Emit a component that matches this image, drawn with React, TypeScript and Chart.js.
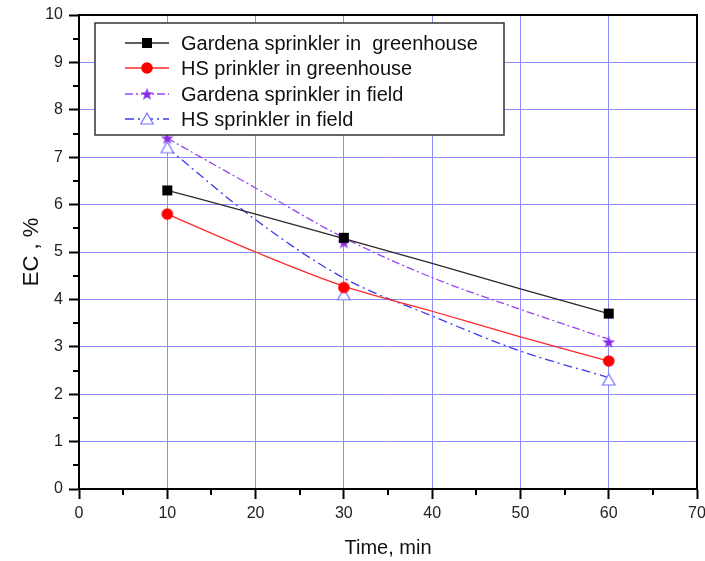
import React, { useEffect, useRef } from 'react';
import { Chart, registerables } from 'chart.js';

Chart.register(...registerables);

// ---- data ----
const timeMin = [10, 30, 60];
const gardenaGreenhouse = [6.3, 5.3, 3.7];
const hsGreenhouse = [5.8, 4.25, 2.7];
const gardenaField = [7.4, 5.2, 3.1];
const hsField = [7.2, 4.1, 2.3];

// fitted curves as drawn in the picture
const curveTime = [10, 20, 30, 40, 50, 60];
const gardenaGreenhouseCurve = [6.3, 5.8, 5.28, 4.76, 4.22, 3.7];
const hsGreenhouseCurve = [5.8, 5.0, 4.28, 3.75, 3.21, 2.7];
const gardenaFieldCurve = [7.4, 6.35, 5.3, 4.46, 3.79, 3.16];
const hsFieldCurve = [7.2, 5.68, 4.45, 3.65, 2.91, 2.35];

const seriesLabels = [
  'Gardena sprinkler in  greenhouse',
  'HS prinkler in greenhouse',
  'Gardena sprinkler in field',
  'HS sprinkler in field',
];

const xTitle = 'Time, min';
const yTitle = 'EC , %';

const FONT = 'Arial, "Liberation Sans", sans-serif';

type Kind = 'square' | 'circle' | 'star' | 'triangle';

function makeMarker(kind: Kind): HTMLCanvasElement {
  const c = document.createElement('canvas');
  c.width = 16;
  c.height = 16;
  const ctx = c.getContext('2d')!;
  const cx = 8, cy = 8;
  if (kind === 'square') {
    ctx.fillStyle = '#000';
    ctx.fillRect(cx - 5, cy - 5, 10, 10);
  } else if (kind === 'circle') {
    ctx.fillStyle = '#ff0000';
    ctx.beginPath();
    ctx.arc(cx, cy, 5.8, 0, Math.PI * 2);
    ctx.fill();
  } else if (kind === 'star') {
    ctx.fillStyle = '#8a2be2';
    ctx.strokeStyle = '#a070ff';
    ctx.lineWidth = 0.8;
    ctx.beginPath();
    for (let i = 0; i < 10; i++) {
      const r = i % 2 === 0 ? 6 : 2.6;
      const a = -Math.PI / 2 + (i * Math.PI) / 5;
      const px = cx + r * Math.cos(a);
      const py = cy + 0.5 + r * Math.sin(a);
      if (i === 0) ctx.moveTo(px, py);
      else ctx.lineTo(px, py);
    }
    ctx.closePath();
    ctx.fill();
    ctx.stroke();
  } else {
    ctx.fillStyle = '#ffffff';
    ctx.strokeStyle = '#7474ff';
    ctx.lineWidth = 1.2;
    ctx.beginPath();
    ctx.moveTo(cx, cy - 6);
    ctx.lineTo(cx + 6.2, cy + 5);
    ctx.lineTo(cx - 6.2, cy + 5);
    ctx.closePath();
    ctx.fill();
    ctx.stroke();
  }
  return c;
}

export default function App() {
  const ref = useRef<HTMLCanvasElement | null>(null);

  useEffect(() => {
    const canvas = ref.current;
    if (!canvas) return;

    const markers = {
      square: makeMarker('square'),
      circle: makeMarker('circle'),
      star: makeMarker('star'),
      triangle: makeMarker('triangle'),
    };

    const series = [
      { label: seriesLabels[0], pts: gardenaGreenhouse, curve: gardenaGreenhouseCurve, line: '#2a2a2a', dash: [] as number[], marker: markers.square },
      { label: seriesLabels[1], pts: hsGreenhouse, curve: hsGreenhouseCurve, line: '#ff2a2a', dash: [] as number[], marker: markers.circle },
      { label: seriesLabels[2], pts: gardenaField, curve: gardenaFieldCurve, line: '#9a44f2', dash: [8, 3, 2, 3], marker: markers.star },
      { label: seriesLabels[3], pts: hsField, curve: hsFieldCurve, line: '#3b3bea', dash: [9, 4, 2, 4], marker: markers.triangle },
    ];

    const datasets: any[] = [];
    series.forEach((s) => {
      datasets.push({
        label: s.label + ' curve',
        data: curveTime.map((t, i) => ({ x: t, y: s.curve[i] })),
        borderColor: s.line,
        borderWidth: 1.3,
        borderDash: s.dash,
        pointRadius: 0,
        fill: false,
        cubicInterpolationMode: 'monotone',
        order: 2,
      });
    });
    series.forEach((s) => {
      datasets.push({
        label: s.label,
        data: timeMin.map((t, i) => ({ x: t, y: s.pts[i] })),
        showLine: false,
        pointStyle: s.marker,
        pointRadius: 6,
        order: 1,
      });
    });

    const framePlugin = {
      id: 'frameAndLegend',
      afterDraw(chart: any) {
        const { ctx, chartArea } = chart;
        const { left, right, top, bottom } = chartArea;
        ctx.save();
        // minor ticks
        ctx.strokeStyle = '#000';
        ctx.lineWidth = 2;
        const ys = chart.scales.y;
        const xs = chart.scales.x;
        for (let v = 0.5; v < 10; v += 1) {
          const py = Math.round(ys.getPixelForValue(v));
          ctx.beginPath();
          ctx.moveTo(left - 6, py);
          ctx.lineTo(left, py);
          ctx.stroke();
        }
        for (let v = 5; v < 70; v += 10) {
          const px = Math.round(xs.getPixelForValue(v));
          ctx.beginPath();
          ctx.moveTo(px, bottom);
          ctx.lineTo(px, bottom + 6);
          ctx.stroke();
        }
        // top and right frame
        ctx.beginPath();
        ctx.moveTo(left - 1, top);
        ctx.lineTo(right, top);
        ctx.lineTo(right, bottom + 1);
        ctx.stroke();

        // legend
        const bx = 95, by = 23, bw = 409, bh = 112;
        ctx.fillStyle = '#ffffff';
        ctx.fillRect(bx, by, bw, bh);
        ctx.strokeStyle = '#333';
        ctx.lineWidth = 1.5;
        ctx.strokeRect(bx, by, bw, bh);
        const rows = [43, 68, 94, 119];
        series.forEach((s, i) => {
          const y = rows[i];
          ctx.strokeStyle = s.line;
          ctx.lineWidth = 1.3;
          ctx.setLineDash(s.dash);
          ctx.beginPath();
          ctx.moveTo(125, y);
          ctx.lineTo(169, y);
          ctx.stroke();
          ctx.setLineDash([]);
          ctx.drawImage(s.marker, 147 - 8, y - 8);
          ctx.fillStyle = '#111';
          ctx.font = `20px ${FONT}`;
          ctx.textAlign = 'left';
          ctx.textBaseline = 'middle';
          ctx.fillText(s.label, 181, y + 1);
        });
        ctx.restore();
      },
    };

    const chart = new Chart(canvas, {
      type: 'line',
      data: { datasets },
      options: {
        responsive: false,
        animation: false,
        layout: { padding: { top: 15, right: 8, left: 0, bottom: 0 } },
        plugins: { legend: { display: false }, tooltip: { enabled: false } },
        scales: {
          x: {
            type: 'linear',
            min: 0,
            max: 70,
            ticks: { stepSize: 10, color: '#222', font: { family: FONT, size: 16 }, padding: 5, maxRotation: 0 },
            grid: { color: '#8c8cff', lineWidth: 1, tickColor: '#000', tickWidth: 2, tickLength: 10 },
            border: { color: '#000', width: 2 },
            title: { display: true, text: xTitle, color: '#111', font: { family: FONT, size: 20 }, padding: { top: 0, bottom: 1 } },
            afterFit: (s: any) => { s.height = 72; s.paddingLeft = 0; s.paddingRight = 0; },
          },
          y: {
            type: 'linear',
            min: 0,
            max: 10,
            ticks: { stepSize: 1, color: '#222', font: { family: FONT, size: 16 }, padding: 6 },
            grid: { color: '#8c8cff', lineWidth: 1, tickColor: '#000', tickWidth: 2, tickLength: 10 },
            border: { color: '#000', width: 2 },
            title: { display: true, text: yTitle, color: '#111', font: { family: FONT, size: 22 }, padding: { top: 19, bottom: 0 } },
            afterFit: (s: any) => { s.width = 79; s.paddingTop = 0; s.paddingBottom = 0; },
          },
        },
      },
      plugins: [framePlugin],
    });

    return () => chart.destroy();
  }, []);

  return (
    <div style={{ position: 'absolute', left: 0, top: 0, width: 705, height: 561, background: '#fff' }}>
      <canvas ref={ref} width={705} height={561} style={{ width: 705, height: 561, display: 'block' }} />
    </div>
  );
}
